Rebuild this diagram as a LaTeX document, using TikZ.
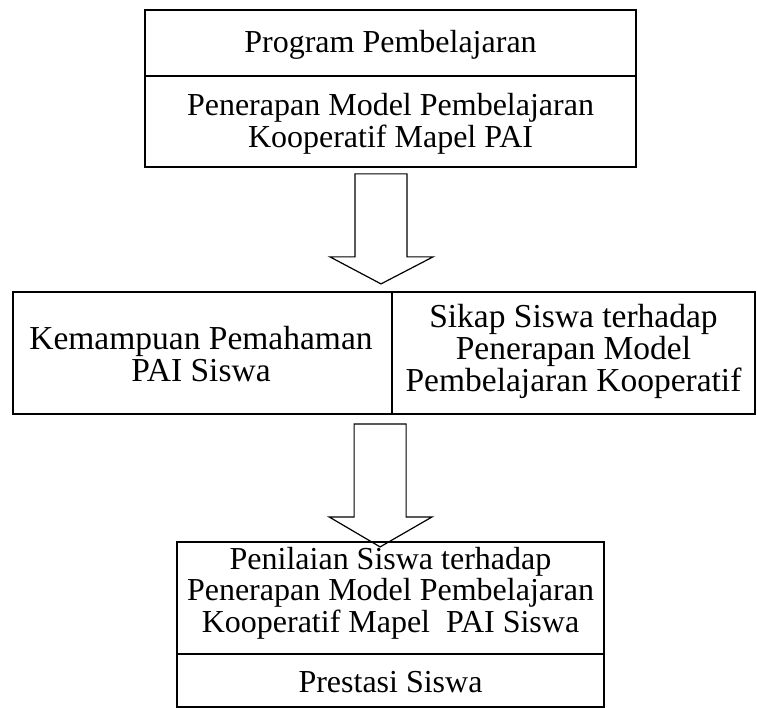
\documentclass[tikz,border=0pt]{standalone}
\usepackage{fontspec}
\setmainfont{Liberation Serif}
\begin{document}
\begin{tikzpicture}[x=1pt,y=-1pt,
  cell/.style={draw,line width=1.8pt,inner sep=0pt},
  label/.style={inner sep=0pt,align=center,font=\fontsize{32}{31.5}\selectfont},
  midlabel/.style={inner sep=0pt,align=center,font=\fontsize{33.5}{32}\selectfont},
  blockarrow/.style={draw,line width=1.2pt,line join=miter}]
\useasboundingbox (0,0) rectangle (757,708);
% top box
\node[cell,minimum width=491pt,minimum height=66pt] (progbox) at (390.5,43) {};
\node[cell,minimum width=491pt,minimum height=91pt] (penerbox) at (390.5,121.5) {};
\node[label] (prog) at (390.5,45) {Program Pembelajaran};
\node[label] (pener) at (390.5,124) {Penerapan Model Pembelajaran\\Kooperatif Mapel PAI};
% middle box
\node[cell,minimum width=379pt,minimum height=122pt] (kempbox) at (202.5,353) {};
\node[cell,minimum width=363pt,minimum height=122pt] (sikapbox) at (573.5,353) {};
\node[midlabel] (kemp) at (201,354) {Kemampuan Pemahaman\\PAI Siswa};
\node[midlabel] (sikap) at (573.5,351) {Sikap Siswa terhadap\\Penerapan Model\\Pembelajaran Kooperatif};
% bottom box
\node[cell,minimum width=427pt,minimum height=112pt] (nilaibox) at (390.5,598) {};
\node[cell,minimum width=427pt,minimum height=53pt] (presbox) at (390.5,680.5) {};
\node[label] (nilai) at (390.5,593) {Penilaian Siswa terhadap\\Penerapan Model Pembelajaran\\Kooperatif Mapel\ \ PAI Siswa};
\node[label] (pres) at (390.5,682) {Prestasi Siswa};
% block arrows
\coordinate (a1) at ([xshift=-9.5pt,yshift=-6pt]penerbox.south);
\draw[blockarrow] (a1) ++(-26,0) -- ++(52,0) -- ++(0,83) -- ++(26,0) -- ++(-52,27) -- ++(-51,-27) -- ++(25,0) -- cycle;
\coordinate (a2) at ([xshift=-11pt,yshift=-9pt]sikapbox.south west);
\draw[blockarrow] (a2) ++(-26,0) -- ++(52,0) -- ++(0,93) -- ++(26,0) -- ++(-52,30) -- ++(-51,-30) -- ++(25,0) -- cycle;
\end{tikzpicture}
\end{document}
